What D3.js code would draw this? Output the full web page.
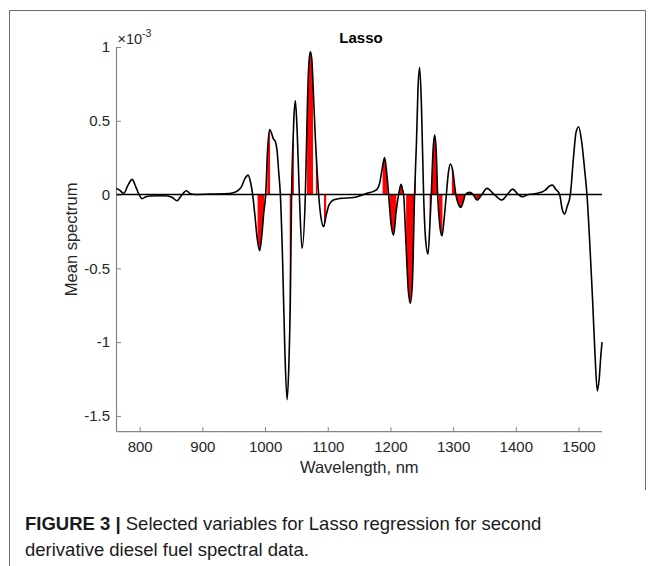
<!DOCTYPE html>
<html>
<head>
<meta charset="utf-8">
<script src="https://cdn.jsdelivr.net/npm/d3@7"></script>
<style>
  html, body { margin: 0; padding: 0; background: #fff; }
  svg { display: block; font-family: "Liberation Sans", Arial, Helvetica, sans-serif; }
</style>
</head>
<body>
<svg id="chart" width="654" height="566"></svg>
<script>
// ---- data (values in units of 1e-3) ----
const wavelengths = [762.8,768,774.5,781,787.9,794,799,803.8,810,817,833,845,852,859.6,866,874.5,881,888.8,912.8,935,949.4,956,962,968,972.9,977,980.2,984,987.5,991.4,995,998,1001,1004,1007.3,1010,1013,1016.4,1019.1,1021.8,1024.4,1028,1031.5,1035.1,1038,1040.3,1042.3,1044.5,1046,1048.3,1051,1054.7,1059,1064.3,1067.5,1069.5,1072.2,1074.5,1077,1080,1082.5,1085.5,1089,1093.5,1097,1102,1108.9,1120.1,1140.8,1150,1162.7,1172,1178.6,1183,1187,1190.7,1194,1197.1,1201,1205.1,1209,1213,1216.9,1219.5,1221,1225,1228.5,1231.7,1235,1238.5,1241.5,1244,1246.6,1249.5,1252.9,1256,1259.9,1263,1265.2,1268,1270.5,1273,1275.3,1278.5,1282.3,1286,1289.2,1292.5,1295.5,1299,1304.3,1308,1312.6,1316,1319.5,1326.4,1332,1338.1,1345.8,1354,1365.7,1378,1386.4,1394.9,1404,1410.8,1420,1427.9,1440,1447,1453,1458.7,1463,1469.9,1474,1477.8,1482,1487,1492,1496,1500.2,1505,1510,1513.5,1518,1522.5,1526.5,1530,1533,1535.5,1537.5];
const meanSpectrum = [0.042,0.03,0.008,0.06,0.103,0.05,0.0,-0.028,-0.015,-0.01,-0.008,-0.01,-0.02,-0.042,-0.01,0.026,0.005,0.0,0.003,0.005,0.012,0.025,0.05,0.11,0.132,0.08,0.0,-0.15,-0.3,-0.38,-0.27,-0.12,0.0,0.3,0.44,0.42,0.38,0.36,0.3,0.15,0.0,-0.45,-1.05,-1.39,-1.15,-0.72,0.0,0.35,0.52,0.636,0.45,0.0,-0.365,0.0,0.6,0.86,0.968,0.92,0.7,0.4,0.2,0.0,-0.15,-0.218,-0.15,-0.07,-0.037,-0.026,-0.02,-0.01,0.008,0.02,0.035,0.08,0.18,0.25,0.15,0.0,-0.2,-0.275,-0.12,0.0,0.069,0.03,0.0,-0.35,-0.65,-0.736,-0.6,0.0,0.35,0.72,0.86,0.6,0.0,-0.3,-0.403,-0.2,0.0,0.3,0.403,0.3,0.0,-0.2,-0.28,-0.15,0.0,0.15,0.207,0.17,0.0,-0.06,-0.087,-0.05,0.0,0.015,0.0,-0.037,0.0,0.042,0.0,-0.037,0.0,0.037,0.0,-0.015,0.0,0.003,0.015,0.03,0.055,0.064,0.04,0.0,-0.1,-0.132,-0.08,0.0,0.25,0.42,0.46,0.36,0.16,0.0,-0.33,-0.715,-1.1,-1.33,-1.25,-1.1,-1.0];

// selected (Lasso) wavelength ranges, nm
const selectedStart = [988, 1003.5, 1039.3, 1067, 1081, 1094, 1187.5, 1198.7, 1214, 1225, 1262.5, 1277, 1298];
const selectedEnd   = [999, 1008,   1046,   1076.5, 1083.5, 1097.5, 1195.5, 1209.5, 1219.5, 1240.5, 1274.3, 1283, 1343];

const xTicks = [800, 900, 1000, 1100, 1200, 1300, 1400, 1500];
const yTicks = [-1.5, -1, -0.5, 0, 0.5, 1];
const xDomain = [763, 1537.5];
const yDomain = [-1.607, 1];

const titleText = "Lasso";
const xLabel = "Wavelength, nm";
const yLabel = "Mean spectrum";
const captionBold = "FIGURE 3 |";
const captionLine1 = " Selected variables for Lasso regression for second";
const captionLine2 = "derivative diesel fuel spectral data.";

// ---- drawing ----
const svg = d3.select("#chart");
const plot = { left: 116.5, right: 602, top: 47, bottom: 431.7 };

const x = d3.scaleLinear().domain(xDomain).range([plot.left, plot.right]);
const y = d3.scaleLinear().domain(yDomain).range([plot.bottom, plot.top]);

const pts = wavelengths.map((w, i) => ({ w, v: meanSpectrum[i] }));

// frame
svg.append("path")
  .attr("d", "M9.5,566 V10.5 H645.5 V490")
  .attr("fill", "none").attr("stroke", "#6b6b6b").attr("stroke-width", 1);

// clip for selected regions
const defs = svg.append("defs");
const clip = defs.append("clipPath").attr("id", "sel");
clip.selectAll("rect").data(selectedStart).join("rect")
  .attr("x", (d) => x(d))
  .attr("width", (d, i) => x(selectedEnd[i]) - x(d))
  .attr("y", 0).attr("height", 566);

// red area
const area = d3.area().x(d => x(d.w)).y0(y(0)).y1(d => y(d.v)).curve(d3.curveMonotoneX);
svg.append("path").datum(pts)
  .attr("d", area).attr("fill", "#ff0000").attr("clip-path", "url(#sel)");

// axes
const axisColor = "#858585";
const xAxis = d3.axisBottom(x).tickValues(xTicks).tickSize(-4.5).tickPadding(10).tickFormat(d => String(d));
const gx = svg.append("g").attr("transform", `translate(0,${plot.bottom})`).call(xAxis);
const yAxis = d3.axisLeft(y).tickValues(yTicks).tickSize(-4.5).tickPadding(6.5).tickFormat(d => String(d));
const gy = svg.append("g").attr("transform", `translate(${plot.left},0)`).call(yAxis);
[gx, gy].forEach(g => {
  g.select(".domain").attr("stroke", axisColor).attr("stroke-width", 1.2);
  g.selectAll(".tick line").attr("stroke", axisColor);
  g.selectAll(".tick text").attr("fill", "#262626").attr("font-size", 15)
    .attr("font-family", "Liberation Sans, Arial, sans-serif");
});
gx.selectAll(".tick text").attr("dy", "0.71em");
gx.select(".domain").attr("d", `M${plot.left},0H${plot.right}`);
gy.select(".domain").attr("d", `M0,${plot.bottom}V${plot.top}`);

// zero line
svg.append("line")
  .attr("x1", x(xDomain[0])).attr("x2", x(xDomain[1]))
  .attr("y1", y(0)).attr("y2", y(0))
  .attr("stroke", "#000").attr("stroke-width", 1.6);

// spectrum curve
const line = d3.line().x(d => x(d.w)).y(d => y(d.v)).curve(d3.curveMonotoneX);
svg.append("path").datum(pts)
  .attr("d", line).attr("fill", "none").attr("stroke", "#000").attr("stroke-width", 1.6)
  .attr("stroke-linejoin", "round");

// exponent label
const exp = svg.append("text").attr("x", plot.left + 1).attr("y", 43.5)
  .attr("font-size", 14.5).attr("fill", "#262626");
exp.append("tspan").text("\u00d710");
exp.append("tspan").attr("font-size", 10.5).attr("dy", -7).text("-3");

// title
svg.append("text").attr("x", 361).attr("y", 43)
  .attr("text-anchor", "middle").attr("font-weight", "bold").attr("font-size", 15)
  .attr("fill", "#000").text(titleText);

// axis labels
svg.append("text").attr("x", (plot.left + plot.right) / 2).attr("y", 473)
  .attr("text-anchor", "middle").attr("font-size", 16.5).attr("fill", "#262626").text(xLabel);
svg.append("text").attr("transform", `translate(77,${(plot.top + plot.bottom) / 2}) rotate(-90)`)
  .attr("text-anchor", "middle").attr("font-size", 16.5).attr("fill", "#262626").text(yLabel);

// caption
const cap = svg.append("text").attr("x", 25).attr("y", 530).attr("font-size", 18.5).attr("fill", "#1a1a1a");
cap.append("tspan").attr("font-weight", "bold").text(captionBold);
cap.append("tspan").text(captionLine1);
svg.append("text").attr("x", 25).attr("y", 556).attr("font-size", 18.5).attr("fill", "#1a1a1a").text(captionLine2);
</script>
</body>
</html>
